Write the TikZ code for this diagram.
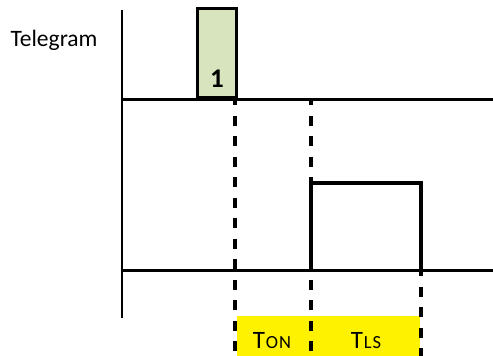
\documentclass[tikz,border=0pt]{standalone}
\usepackage{fontspec}
\setmainfont{Carlito}
\definecolor{boxgreen}{HTML}{D7E4BD}
\newcommand{\capT}[2]{{\fontsize{25}{28}\selectfont T\kern1pt\fontsize{18.5}{20}\selectfont #1\kern1pt#2}}

\begin{document}
\begin{tikzpicture}[x=1pt, y=-1pt, line width=3pt,
	timing/.style={line width=3.5pt, dash pattern=on 10pt off 10.5pt, dash phase=4pt},
	every node/.style={font=\fontsize{23.5}{26}\selectfont}]
	\useasboundingbox (0,0) rectangle (493,356);
	\fill[yellow] (237,316) rectangle (420,356);
	\coordinate (Yt) at (122,10);
	\coordinate (Yb) at (122,318);
	\coordinate (L1) at (122,99);
	\coordinate (R1) at (493,99);
	\coordinate (L2) at (122,270);
	\coordinate (R2) at (493,270);
	\coordinate (P1) at (311,270);
	\coordinate (P2) at (311,183);
	\coordinate (P3) at (421,183);
	\coordinate (P4) at (421,270);
	\coordinate (D1t) at (235,99);
	\coordinate (D1b) at (235,356);
	\coordinate (D2t) at (311,99);
	\coordinate (D2b) at (311,356);
	\coordinate (D3b) at (421,356);
	\node (tg) at (54,40) {Telegram};
	\node[draw, fill=boxgreen, minimum width=39pt, minimum height=89pt,
		anchor=south west, inner sep=0pt] (box) at (196,99) {};
	\node[above=10pt, inner sep=0pt, font=\fontsize{27}{30}\selectfont\bfseries]
		(one) at (box.south) {1};
	\draw[line width=2.2pt] (Yt) -- (Yb);
	\draw (L1) -- (R1);
	\draw (L2) -- (R2);
	\draw[line width=3.5pt] (P1) -- (P2) -- (P3) -- (P4);
	\draw[timing] (D1t) -- (D1b);
	\draw[timing] (D2t) -- (D2b);
	\draw[timing] (P4) -- (D3b);
	\node (ton) at (272,341) {\capT{O}{N}};
	\node (tls) at (366,341) {\capT{L}{S}};
\end{tikzpicture}
\end{document}
